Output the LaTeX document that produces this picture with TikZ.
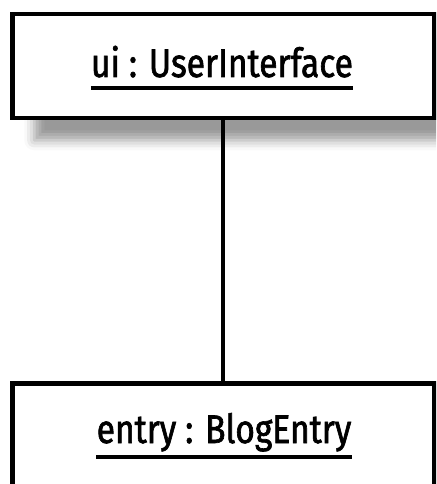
\documentclass[tikz,border=0pt]{standalone}
\usepackage{fontspec}
\setmainfont{Fira Sans}[FakeStretch=0.84, FakeBold=1.6]
\usetikzlibrary{shadows.blur}
\begin{document}
\begin{tikzpicture}[x=1pt,y=-1pt,
  objbox/.style={draw=black, line width=4.5pt, fill=white, minimum width=422pt, inner sep=0pt},
  objname/.style={font=\fontsize{40}{42}\selectfont, inner sep=0pt, anchor=base},
  uline/.style={line width=4pt, line cap=butt},
  link/.style={line width=4pt}]
  \useasboundingbox (0,0) rectangle (436,484);
  \clip (0,0) rectangle (436,484);

  % object boxes
  \node[objbox, minimum height=104pt, anchor=north west,
        blur shadow={shadow xshift=22pt, shadow yshift=-22pt, shadow blur radius=10pt, shadow opacity=40}]
        (ui) at (10,12) {};
  \node[objbox, minimum height=110pt, anchor=north west] (entry) at (10,381) {};

  % link between the objects
  \draw[link] (ui.south) -- (entry.north);

  % object names, underlined
  \node[objname] (uiname) at (222,77) {ui : UserInterface};
  \draw[uline] ([yshift=-11pt]uiname.base west) -- ([yshift=-11pt]uiname.base east);
  \node[objname] (entryname) at (224,443) {entry : BlogEntry};
  \draw[uline] ([yshift=-14pt]entryname.base west) -- ([yshift=-14pt]entryname.base east);
\end{tikzpicture}
\end{document}
